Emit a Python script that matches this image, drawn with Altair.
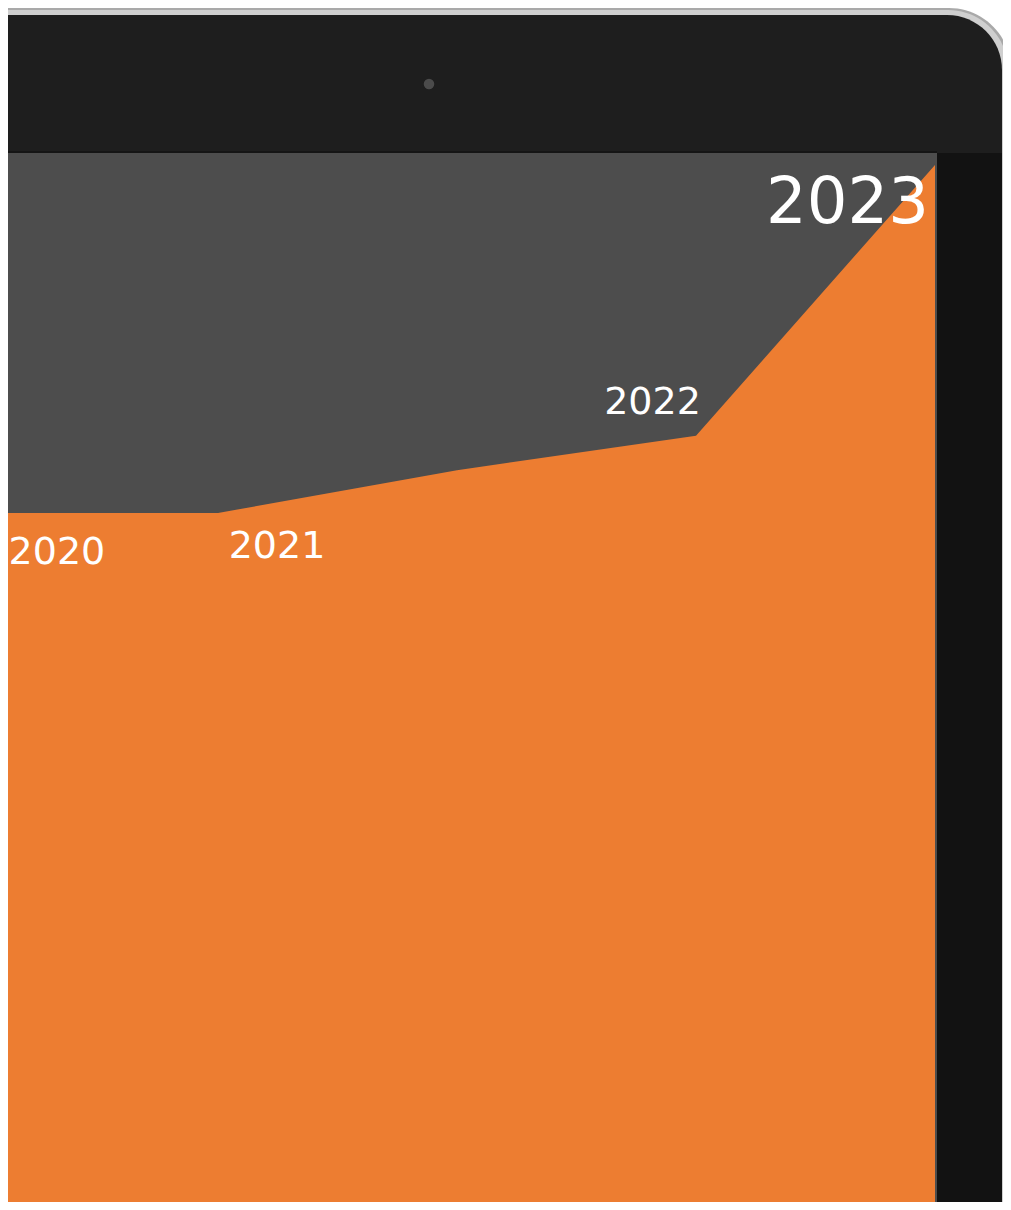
import altair as alt
import pandas as pd

# ---- data ----
years = [2019, 2020, 2021, 2022, 2023]
values = [66.7, 66.7, 70.8, 74.1, 100.0]

label_text = ["2020", "2021", "2022", "2023"]
label_year = [2019.326, 2020.247, 2021.818, 2022.634]
label_value = [61.8, 62.4, 76.2, 94.45]
label_size = [38, 38, 38, 64]

# ---- layout (chart starts 8px in from page edge) ----
W, H = 995, 1194
OFF = 8
X_DOMAIN = [2019.12134, 2019.12134 + W / 239.0]
Y_DOMAIN = [0.7656, 115.024]

area_df = pd.DataFrame({"year": years, "value": values})
lab_df = pd.DataFrame({"text": label_text, "year": label_year,
                       "value": label_value, "size": label_size})

xs = alt.Scale(domain=X_DOMAIN, nice=False, zero=False)
ys = alt.Scale(domain=Y_DOMAIN, nice=False, zero=False)

one = pd.DataFrame({"k": [0]})


def box(x1, x2, y1, y2, color, **kw):
    return alt.Chart(one).mark_rect(color=color, **kw).encode(
        x=alt.value(x1 - OFF), x2=alt.value(x2 - OFF),
        y=alt.value(y1 - OFF), y2=alt.value(y2 - OFF))


silver = box(-20, 1011, 8, 1300, "#a9a9a9", cornerRadiusTopRight=62)
silver_in = box(-20, 1008, 10, 1300, "#cfcfcf", cornerRadiusTopRight=60)
bezel = box(-20, 1002, 15, 1300, "#1e1e1e", cornerRadiusTopRight=55)
right_bezel = box(937, 1002, 153, 1300, "#121212")
screen_line = box(-20, 937, 151, 153, "#151515")
screen = box(-20, 937, 153, 1300, "#4d4d4d")

camera = alt.Chart(one).mark_point(filled=True, color="#565656", size=110,
                                   opacity=0.8).encode(
    x=alt.value(429 - OFF), y=alt.value(84 - OFF))

area = alt.Chart(area_df).mark_area(color="#ED7D31", clip=True,
                                    interpolate="linear").encode(
    x=alt.X("year:Q", scale=xs, axis=None),
    y=alt.Y("value:Q", scale=ys, axis=None),
    y2=alt.datum(-5),
)

labels = alt.Chart(lab_df).mark_text(
    color="white", font="DejaVu Sans", align="center",
    baseline="alphabetic").encode(
    x=alt.X("year:Q", scale=xs, axis=None),
    y=alt.Y("value:Q", scale=ys, axis=None),
    text="text:N",
    size=alt.Size("size:Q", scale=None, legend=None),
)

chart = alt.layer(
    silver, silver_in, bezel, right_bezel, screen_line, screen, camera,
    area, labels
).properties(
    width=W, height=H, padding=0, background="white",
    autosize=alt.AutoSizeParams(type="none"),
).configure_view(stroke=None)

chart.save("out.html", embed_options={"renderer": "svg", "actions": False})
